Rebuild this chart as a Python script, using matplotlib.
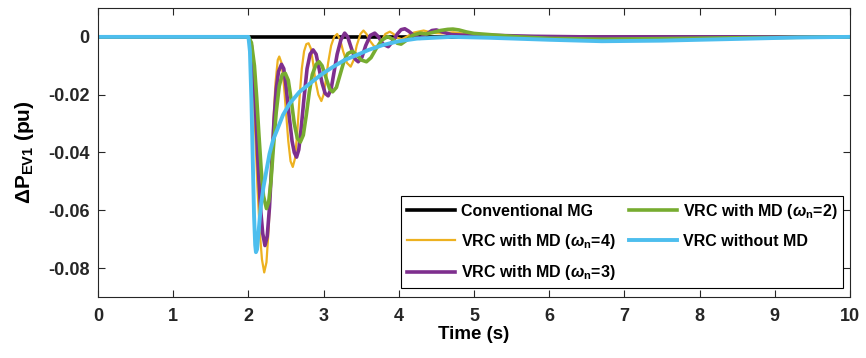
import matplotlib
matplotlib.use("Agg")
import matplotlib.pyplot as plt

plt.rcParams['font.family'] = ['Liberation Sans', 'DejaVu Sans']
plt.rcParams['font.weight'] = 'bold'
plt.rcParams['axes.unicode_minus'] = False
plt.rcParams['mathtext.fontset'] = 'custom'
plt.rcParams['mathtext.rm'] = 'Liberation Sans:bold'
plt.rcParams['mathtext.bf'] = 'Liberation Sans:bold'
plt.rcParams['mathtext.it'] = 'Liberation Sans:bold:italic'

# Conventional MG (flat)
t_conv = [0, 10]
p_conv = [0, 0]

# VRC with MD (wn=4)
t_w4 = [0, 2.00, 2.03, 2.06, 2.09, 2.12, 2.15, 2.18, 2.21, 2.24, 2.27, 2.30, 2.33,
        2.36, 2.39, 2.41, 2.44, 2.47, 2.50, 2.53, 2.56, 2.59, 2.62, 2.65, 2.68,
        2.71, 2.74, 2.77, 2.80, 2.83, 2.86, 2.89, 2.93, 2.97, 3.00, 3.03, 3.06,
        3.10, 3.14, 3.18, 3.22, 3.26, 3.31, 3.36, 3.40, 3.44, 3.49, 3.53, 3.57,
        3.62, 3.67, 3.71, 3.76, 3.82, 3.88, 3.93, 3.98, 4.04, 4.10, 4.20, 4.33,
        4.45, 4.58, 4.72, 4.90, 5.2, 5.6, 6.0, 10]
p_w4 = [0, 0, -0.003, -0.015, -0.033, -0.052, -0.067, -0.077, -0.0815, -0.078,
        -0.066, -0.048, -0.030, -0.016, -0.008, -0.0068, -0.009, -0.016, -0.026,
        -0.036, -0.043, -0.045, -0.042, -0.033, -0.021, -0.011, -0.005, -0.0025,
        -0.0022, -0.004, -0.009, -0.015, -0.020, -0.0222, -0.020, -0.015, -0.009,
        -0.003, 0.0, 0.001, -0.001, -0.005, -0.009, -0.0103, -0.008, -0.003,
        0.001, 0.0022, 0.001, -0.0015, -0.0032, -0.0034, -0.002, 0.001, 0.0018,
        0.001, -0.0003, -0.0008, 0.0, 0.0015, 0.0022, 0.0014, 0.0012, 0.0016,
        0.001, 0.0005, 0.0002, 0.0, 0.0]

# VRC with MD (wn=3)
t_w3 = [0, 2.00, 2.04, 2.07, 2.10, 2.13, 2.16, 2.19, 2.22, 2.25, 2.28, 2.31, 2.34,
        2.37, 2.40, 2.44, 2.47, 2.50, 2.54, 2.58, 2.61, 2.64, 2.67, 2.70, 2.74,
        2.78, 2.82, 2.86, 2.90, 2.94, 2.98, 3.02, 3.06, 3.10, 3.14, 3.18, 3.23,
        3.28, 3.32, 3.37, 3.42, 3.46, 3.51, 3.56, 3.62, 3.68, 3.73, 3.79, 3.86,
        3.92, 3.98, 4.03, 4.08, 4.13, 4.20, 4.28, 4.36, 4.44, 4.50, 4.58, 4.70,
        4.85, 5.0, 5.3, 5.8, 6.5, 10]
p_w3 = [0, 0, -0.003, -0.013, -0.028, -0.045, -0.059, -0.068, -0.0722, -0.069,
        -0.059, -0.044, -0.029, -0.018, -0.012, -0.0095, -0.011, -0.017, -0.027,
        -0.036, -0.040, -0.0416, -0.039, -0.032, -0.021, -0.011, -0.006, -0.0045,
        -0.006, -0.011, -0.016, -0.0195, -0.0204, -0.018, -0.012, -0.006, -0.001,
        0.0013, 0.0, -0.004, -0.0077, -0.0086, -0.007, -0.003, 0.0005, 0.0013,
        0.0, -0.0025, -0.0034, -0.0015, 0.001, 0.0025, 0.0028, 0.002, 0.0005,
        -0.0005, 0.0008, 0.0022, 0.0024, 0.0017, 0.0008, 0.0006, 0.0008, 0.0005,
        0.0002, 0.0, 0.0]

# VRC with MD (wn=2)
t_w2 = [0, 2.00, 2.04, 2.08, 2.11, 2.14, 2.17, 2.20, 2.24, 2.27, 2.30, 2.33, 2.37,
        2.41, 2.45, 2.49, 2.53, 2.57, 2.61, 2.65, 2.69, 2.73, 2.77, 2.81, 2.85,
        2.90, 2.94, 2.98, 3.03, 3.08, 3.12, 3.17, 3.22, 3.27, 3.32, 3.38, 3.44,
        3.50, 3.57, 3.63, 3.70, 3.77, 3.85, 3.92, 3.98, 4.03, 4.10, 4.18, 4.28,
        4.36, 4.45, 4.55, 4.65, 4.72, 4.80, 4.90, 5.0, 5.3, 5.6, 6.0, 6.7, 7.5,
        8.5, 10]
p_w2 = [0, 0, -0.002, -0.010, -0.021, -0.034, -0.046, -0.055, -0.0594, -0.057,
        -0.050, -0.039, -0.026, -0.017, -0.013, -0.0126, -0.015, -0.022, -0.030,
        -0.035, -0.0364, -0.034, -0.027, -0.019, -0.013, -0.0095, -0.0086, -0.010,
        -0.014, -0.018, -0.019, -0.0175, -0.013, -0.0085, -0.0058, -0.005, -0.0062,
        -0.008, -0.0086, -0.0072, -0.004, -0.0012, 0.0001, -0.0008, -0.0022,
        -0.0025, -0.0012, 0.0005, 0.0013, 0.001, 0.0015, 0.0022, 0.0026, 0.0027,
        0.0024, 0.0017, 0.0012, 0.0006, 0.0, -0.0005, -0.0008, -0.0006, -0.0003,
        0.0]

# VRC without MD
t_nomd = [0, 2.00, 2.02, 2.04, 2.06, 2.075, 2.09, 2.10, 2.115, 2.13, 2.15, 2.17,
          2.20, 2.24, 2.28, 2.33, 2.38, 2.46, 2.55, 2.68, 2.82, 2.97, 3.13, 3.28,
          3.44, 3.60, 3.79, 4.0, 4.24, 4.7, 5.2, 6.0, 6.7, 7.5, 8.5, 9.3, 10]
p_nomd = [0, 0, -0.005, -0.022, -0.045, -0.062, -0.072, -0.0745, -0.0735, -0.069,
          -0.063, -0.0575, -0.052, -0.0462, -0.0405, -0.0355, -0.0323, -0.027,
          -0.023, -0.019, -0.0161, -0.013, -0.0103, -0.008, -0.0063, -0.0045,
          -0.0028, -0.0015, -0.0006, 0.0, -0.0003, -0.001, -0.0015, -0.0013,
          -0.0007, -0.0002, 0.0]

yticks = [0, -0.02, -0.04, -0.06, -0.08]
ytick_labels = ['0', '-0.02', '-0.04', '-0.06', '-0.08']

fig = plt.figure(figsize=(8.66, 3.58), dpi=100)
ax = fig.add_axes([0.1132, 0.1704, 0.8683, 0.8073])

ax.plot(t_conv, p_conv, color='black', lw=2.6, label='Conventional MG')
ax.plot(t_w4, p_w4, color='#EDB120', lw=1.6, label=r'VRC with MD ($\omega_{\mathrm{n}}$=4)')
ax.plot(t_w3, p_w3, color='#7E2F8E', lw=2.6, label=r'VRC with MD ($\omega_{\mathrm{n}}$=3)')
ax.plot(t_w2, p_w2, color='#77AC30', lw=2.6, label=r'VRC with MD ($\omega_{\mathrm{n}}$=2)')
ax.plot(t_nomd, p_nomd, color='#4DBEEE', lw=2.8, label='VRC without MD')

ax.set_xlim(0, 10)
ax.set_ylim(-0.09, 0.01)
ax.set_xticks(range(11))
ax.set_yticks(yticks)
ax.set_yticklabels(ytick_labels)
ax.tick_params(direction='in', top=True, right=True, labelsize=13, colors='#262626',
               length=5, width=0.8)
ax.tick_params(axis='x', pad=8)
ax.tick_params(axis='y', pad=6)
for lab in ax.get_xticklabels() + ax.get_yticklabels():
    lab.set_fontweight('bold')
for s in ax.spines.values():
    s.set_color('#262626')
    s.set_linewidth(0.8)

ax.set_xlabel('Time (s)', fontsize=13.5, fontweight='bold', labelpad=1)
ax.set_ylabel(r'$\Delta$P$_{\mathrm{EV1}}$ (pu)', fontsize=15, fontweight='bold', labelpad=9)

leg = ax.legend(ncol=2, loc='lower right', bbox_to_anchor=(0.991, 0.031),
                borderaxespad=0, fontsize=11.5, handlelength=3.0, columnspacing=0.8,
                handletextpad=0.4, labelspacing=0.8, fancybox=False, framealpha=1,
                borderpad=0.35)
leg.get_frame().set_edgecolor('black')
leg.get_frame().set_linewidth(0.8)
for txt in leg.get_texts():
    txt.set_fontweight('bold')

fig.savefig('out.png', dpi=100)
